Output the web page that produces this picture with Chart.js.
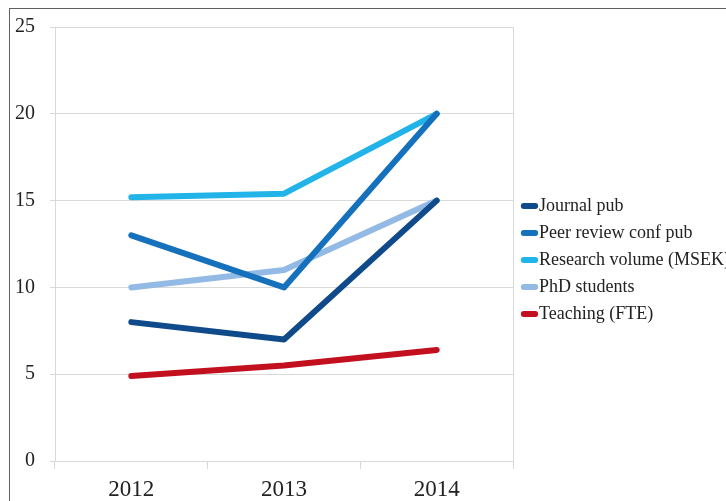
<!DOCTYPE html>
<html>
<head>
<meta charset="utf-8">
<script src="https://cdn.jsdelivr.net/npm/chart.js@4/dist/chart.umd.min.js"></script>
<style>
  html, body { margin: 0; padding: 0; background: #fff; overflow: hidden; }
  #wrap { position: relative; width: 726px; height: 501px; }
  #frame { position: absolute; left: 9px; top: 8px; width: 800px; height: 600px; border: 1.5px solid #606060; box-sizing: border-box; }
  #c { position: absolute; left: 0; top: 0; }
</style>
</head>
<body>
<div id="wrap">
  <div id="frame"></div>
  <canvas id="c" width="726" height="501"></canvas>
</div>
<script>
// ---- data ----
const YEARS = ["2012", "2013", "2014"];
const JOURNAL_PUB  = [8, 7, 15];
const PEER_REVIEW  = [13, 10, 20];
const RESEARCH_VOL = [15.2, 15.4, 20];
const PHD_STUDENTS = [10, 11, 15];
const TEACHING     = [4.9, 5.5, 6.4];

const GRID = "#d9d9d9";
const SERIF = "'Liberation Serif', 'DejaVu Serif', serif";

function series(label, data, color) {
  return {
    label, data,
    borderColor: color,
    backgroundColor: color,
    borderWidth: 6,
    borderCapStyle: "round",
    borderJoinStyle: "round",
    pointRadius: 0,
    pointHoverRadius: 0,
    tension: 0,
    fill: false,
  };
}

new Chart(document.getElementById("c"), {
  type: "line",
  data: {
    labels: YEARS,
    datasets: [
      series("Journal pub", JOURNAL_PUB, "#0f4a8a"),
      series("Peer review conf pub", PEER_REVIEW, "#1671bc"),
      series("Research volume (MSEK)", RESEARCH_VOL, "#22b4e8"),
      series("PhD students", PHD_STUDENTS, "#93bae4"),
      series("Teaching (FTE)", TEACHING, "#c2101f"),
    ]
  },
  options: {
    responsive: false,
    animation: false,
    layout: { padding: { left: 0, top: 22, right: 0, bottom: -9 } },
    plugins: {
      tooltip: { enabled: false },
      legend: {
        position: "right",
        align: "center",
        maxWidth: 206,
        // empty title with negative padding just nudges the items up a little
        title: { display: true, text: "", font: { size: 1, lineHeight: 1 }, padding: { top: -13, bottom: 0 } },
        labels: {
          usePointStyle: true,
          pointStyle: "line",
          boxWidth: 1,
          boxHeight: 8,
          padding: 9,
          color: "#222",
          font: { family: SERIF, size: 18 },
          generateLabels: chart =>
            Chart.defaults.plugins.legend.labels.generateLabels(chart)
              .map(item => ({ ...item, lineCap: "round", lineWidth: 6 })),
        }
      }
    },
    scales: {
      x: {
        offset: true,
        grid: { offset: true, drawOnChartArea: false, color: GRID, tickLength: 8 },
        border: { display: false },
        ticks: { color: "#222", padding: 9, font: { family: SERIF, size: 23, lineHeight: 1 } }
      },
      y: {
        min: 0, max: 25,
        grid: { color: GRID, tickLength: 5 },
        border: { color: GRID },
        ticks: { stepSize: 5, color: "#222", padding: 15, font: { family: SERIF, size: 20 } }
      },
      y2: {
        position: "right",
        min: 0, max: 25,
        grid: { drawOnChartArea: false, tickLength: 7, tickColor: "transparent" },
        border: { color: GRID },
        ticks: { display: false }
      }
    }
  }
});
</script>
</body>
</html>
